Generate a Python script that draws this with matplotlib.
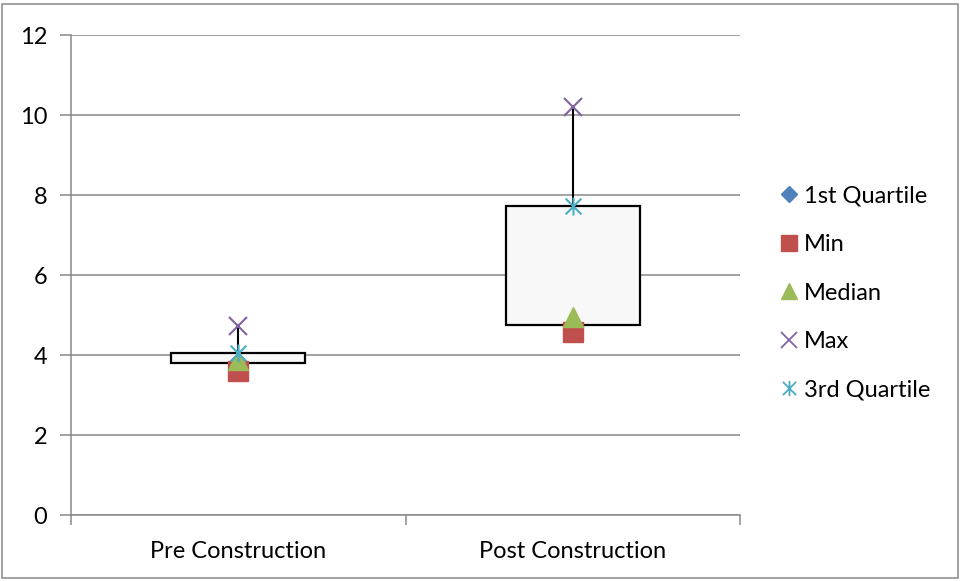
import matplotlib
matplotlib.use("Agg")
import matplotlib.pyplot as plt
from matplotlib.path import Path
from matplotlib.patches import Rectangle
from matplotlib.lines import Line2D

categories = ["Pre Construction", "Post Construction"]
q1 = [3.81, 4.75]
minimum = [3.61, 4.57]
median = [3.88, 4.95]
maximum = [4.72, 10.21]
q3 = [4.04, 7.72]

y_ticks = [0, 2, 4, 6, 8, 10, 12]

plt.rcParams["font.family"] = ["Lato", "DejaVu Sans"]

GRID = "#898989"
C_Q1, C_MIN, C_MED, C_MAX, C_Q3 = "#4F81BD", "#C0504D", "#9BBB59", "#8064A2", "#4BACC6"
FS = 17

# asterisk marker: vertical bar plus diagonal cross
asterisk = Path(
    [(0, -1), (0, 1), (-0.87, -0.87), (0.87, 0.87), (-0.87, 0.87), (0.87, -0.87)],
    [Path.MOVETO, Path.LINETO, Path.MOVETO, Path.LINETO, Path.MOVETO, Path.LINETO],
)

fig = plt.figure(figsize=(9.61, 5.81), dpi=100)
ax = fig.add_axes([71 / 961, 1 - 515 / 581, (740 - 71) / 961, (515 - 35) / 581])

x = list(range(len(categories)))

# boxes (stacked from Q1 to Q3)
heights = [b - a for a, b in zip(q1, q3)]
ax.bar(x, heights, bottom=q1, width=0.40, color="#F8F8F8", edgecolor="black",
       linewidth=1.6, zorder=3)

# upper whisker from Q3 to max
ax.vlines(x, q3, maximum, color="black", linewidth=1.5, zorder=4)

ms = 14
ax.plot(x, q1, linestyle="none", marker="D", color=C_Q1, markersize=10, zorder=5)
ax.plot(x, minimum, linestyle="none", marker="s", color=C_MIN, markersize=ms, zorder=6)
ax.plot(x, median, linestyle="none", marker="^", color=C_MED, markersize=ms, zorder=7)
ax.plot(x, maximum, linestyle="none", marker="x", color=C_MAX, markersize=13,
        markeredgewidth=1.5, zorder=8)
ax.plot(x, q3, linestyle="none", marker=asterisk, color=C_Q3, markersize=13,
        markeredgewidth=1.5, zorder=9)

ax.set_xlim(-0.5, 1.5)
ax.set_ylim(0, 12)
ax.set_yticks(y_ticks)
ax.set_yticklabels([str(t) for t in y_ticks])
ax.yaxis.grid(True, color=GRID, linewidth=1.1, zorder=0)
ax.set_axisbelow(True)

ax.set_xticks(x)
ax.set_xticklabels(categories)
ax.set_xticks([-0.5, 0.5, 1.5], minor=True)
ax.tick_params(axis="x", which="major", length=0, pad=19, labelsize=FS)
ax.tick_params(axis="x", which="minor", length=7, color=GRID, width=1.1)
ax.tick_params(axis="y", length=8, color=GRID, width=1.1, pad=9, labelsize=FS)

for side in ["top", "right"]:
    ax.spines[side].set_visible(False)
for side in ["left", "bottom"]:
    ax.spines[side].set_color(GRID)
    ax.spines[side].set_linewidth(1.1)

# legend
handles = [
    Line2D([], [], linestyle="none", marker="D", color=C_Q1, markersize=8),
    Line2D([], [], linestyle="none", marker="s", color=C_MIN, markersize=12),
    Line2D([], [], linestyle="none", marker="^", color=C_MED, markersize=12),
    Line2D([], [], linestyle="none", marker="x", color=C_MAX, markersize=11, markeredgewidth=1.3),
    Line2D([], [], linestyle="none", marker=asterisk, color=C_Q3, markersize=11, markeredgewidth=1.3),
]
labels = ["1st Quartile", "Min", "Median", "Max", "3rd Quartile"]
fig.legend(handles, labels, loc="center left", bbox_to_anchor=(771 / 961, 1 - 293 / 581),
           frameon=False, fontsize=FS, handlelength=0.75, handletextpad=0.25,
           labelspacing=1.17, borderaxespad=0)

# chart border
fig.add_artist(Rectangle((2 / 961, 3 / 581), 956 / 961, 574 / 581, transform=fig.transFigure,
                         fill=False, edgecolor=GRID, linewidth=1.1))

fig.savefig("out.png", dpi=100)
